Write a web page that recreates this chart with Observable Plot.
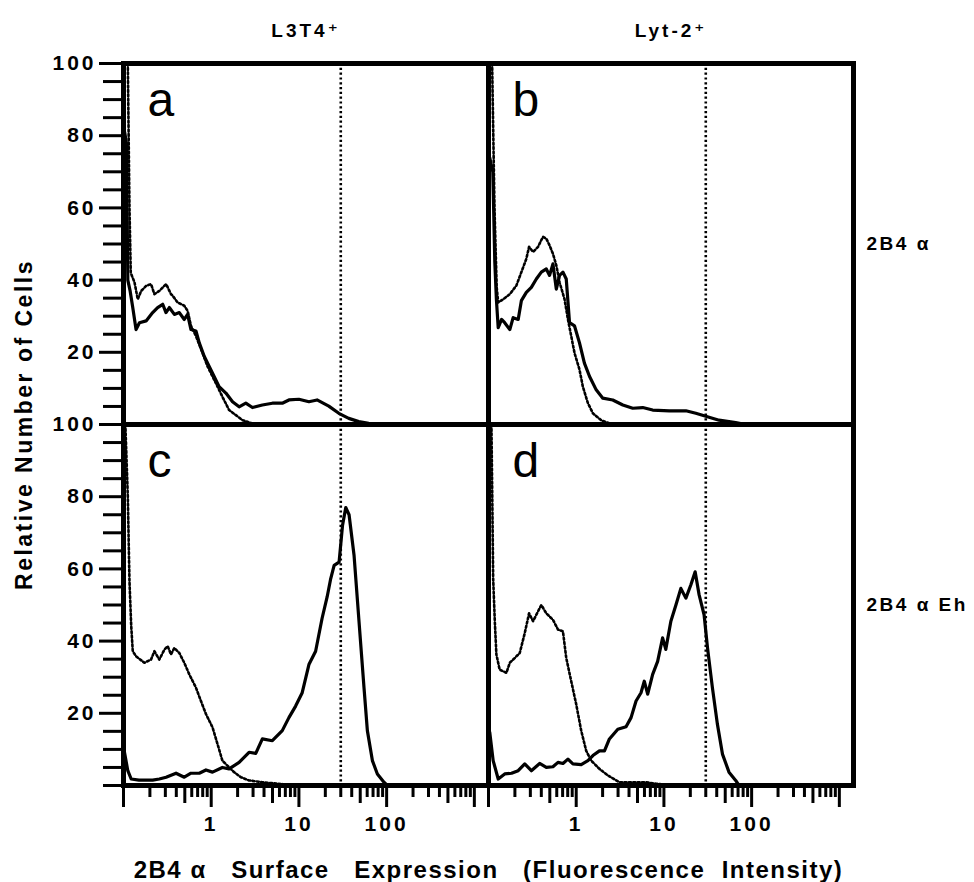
<!DOCTYPE html>
<html><head><meta charset="utf-8">
<script src="https://cdn.jsdelivr.net/npm/d3@7"></script>
<script src="https://cdn.jsdelivr.net/npm/@observablehq/plot@0.6"></script>
<style>
body{margin:0;background:#fff;}
#chart svg{display:block;}
#chart g[aria-label="y-axis tick label"] text{letter-spacing:3px;}
#chart g[aria-label="x-axis tick label"] text{letter-spacing:3px;}
#chart g[aria-label="y-axis label"] text{font-size:23px;letter-spacing:2.5px;}
#chart g[aria-label="x-axis label"] text{font-size:24px;letter-spacing:1.5px;}
#chart g[aria-label="fx-axis tick label"] text{letter-spacing:3px;}
#chart g[aria-label="fy-axis tick label"] text{letter-spacing:2.5px;}
</style>
</head><body><div id="chart"></div>
<script>
// Facets
const cols = ["L3T4\u207A", "Lyt-2\u207A"];
const rows = ["2B4 \u03B1", "2B4 \u03B1 Eh"];
const panelLetters = ["a", "b", "c", "d"];
// Axes
const xDomain = [0.1, 1450];
const yDomain = [0, 100];
const xMajor = [0.1, 1, 10, 100, 1000];
const xMid = [0.5, 5, 50, 500];
const xMinor = [0.2,0.3,0.4,0.6,0.7,0.8,0.9, 2,3,4,6,7,8,9, 20,30,40,60,70,80,90, 200,300,400,600,700,800,900];
const xLabels = ["1", "10", "100"];
const yMajor = [20, 40, 60, 80, 100];
const yMinor = [0,5,10,15,25,30,35,45,50,55,65,70,75,85,90,95];
const gate = [30];

// (a) L3T4+ / 2B4 alpha
const aSolid = [[0.103,81],[0.108,78],[0.112,40],[0.119,37],[0.1275,32.4],[0.139,26.3],[0.152,28.2],[0.181,28.7],[0.215,31],[0.245,32.4],[0.28,33.3],[0.305,31],[0.333,32.4],[0.38,30.5],[0.433,31],[0.493,29.1],[0.538,30.5],[0.588,26.3],[0.67,25.9],[0.731,22.6],[0.832,18.9],[0.949,16.1],[1.08,13.3],[1.23,10.5],[1.47,8.7],[1.75,6.3],[2.08,4.9],[2.48,5.9],[2.95,4.7],[3.83,5.4],[4.98,5.9],[6.46,5.9],[7.69,6.8],[10,7.0],[13,6.3],[16.1,6.8],[21.9,5.1],[28.5,3.1],[37,1.7],[48.1,0.8],[62.4,0.3],[80,0]];
const aDotted = [[0.112,100],[0.117,60],[0.121,42],[0.1334,39.4],[0.1454,34.7],[0.159,37],[0.181,38.4],[0.206,38.9],[0.225,36.1],[0.256,37],[0.306,38.9],[0.348,36.1],[0.363,35.7],[0.414,33.8],[0.493,32.9],[0.538,31.5],[0.588,27.3],[0.67,24.5],[0.796,19.8],[0.908,16.1],[1.035,13.3],[1.18,10.5],[1.34,7.7],[1.6,4.0],[1.91,2.6],[2.27,1.2],[2.95,0.3],[4,0]];
// (b) Lyt-2+ / 2B4 alpha
const bSolid = [[0.103,74],[0.112,70],[0.118,45],[0.123,34.7],[0.129,26.8],[0.141,29.1],[0.153,28.2],[0.175,26.3],[0.191,29.6],[0.218,29.1],[0.237,34.3],[0.27,36.6],[0.308,38],[0.351,40.3],[0.4,42.2],[0.456,43.1],[0.497,41.3],[0.543,44.5],[0.593,37.5],[0.646,41.3],[0.706,42.2],[0.77,40.3],[0.839,28.2],[0.957,27.3],[1.09,22.6],[1.24,17],[1.42,13.3],[1.69,9.6],[2.01,7.3],[2.61,6.8],[3.4,5.4],[4.41,4.5],[5.73,4.7],[7.44,4.0],[11.5,3.8],[17.8,3.8],[23.1,3.1],[30,2.3],[42.5,1.2],[65.8,0.5],[85.5,0]];
const bDotted = [[0.11,100],[0.117,60],[0.124,38],[0.129,33.8],[0.147,34.7],[0.175,36.1],[0.208,38.5],[0.237,42.2],[0.27,45.9],[0.29,49.2],[0.322,47.8],[0.367,49.2],[0.418,52],[0.456,51.5],[0.497,49.6],[0.543,47.3],[0.593,44.1],[0.646,39.4],[0.736,34.7],[0.805,29.1],[0.877,24.5],[0.957,19.8],[1.09,15.2],[1.19,10.5],[1.36,5.9],[1.55,3.1],[1.92,1.2],[2.39,0.3],[3.2,0]];
// (c) L3T4+ / 2B4 alpha Eh
const cSolid = [[0.1,10.5],[0.1026,9.2],[0.112,4.1],[0.1223,1.8],[0.15,1.5],[0.215,1.5],[0.256,1.8],[0.306,2.3],[0.397,3.4],[0.493,2.3],[0.588,3.4],[0.731,3.4],[0.871,4.3],[1.035,3.7],[1.34,5.0],[1.6,4.6],[2.08,6.4],[2.7,9.2],[3.22,8.9],[3.83,12.9],[4.98,12.4],[6.46,15.2],[7.69,18.8],[9.17,22],[10.9,25.7],[13,33.5],[15.5,37.2],[18.4,46.4],[21,52.3],[22.9,57],[25.2,61],[28.7,61.9],[31.4,72],[34.2,77],[37.3,75],[42.5,63.8],[48.4,45.5],[55.2,27.1],[60.3,15.2],[68.8,6.9],[78.4,3.2],[93.2,0.9],[102,0]];
const cDotted = [[0.105,100],[0.112,80],[0.117,56.5],[0.1223,44.5],[0.1275,37.2],[0.139,35.8],[0.173,34],[0.206,34.9],[0.225,37.2],[0.256,34.9],[0.292,37.6],[0.319,38.6],[0.348,36.3],[0.38,38.1],[0.433,36.7],[0.493,34],[0.562,30.8],[0.67,27.1],[0.764,23.4],[0.871,19.8],[1.035,16.1],[1.18,11.5],[1.34,6.9],[1.53,5.5],[1.82,3.7],[2.18,2.3],[2.7,1.4],[3.83,0.9],[7.06,0.3],[12,0]];
// (d) Lyt-2+ / 2B4 alpha Eh
const dSolid = [[0.1,15.5],[0.1034,14.7],[0.113,6.9],[0.129,1.8],[0.153,3.2],[0.183,3.4],[0.218,4.1],[0.259,6.0],[0.308,4.1],[0.383,6.1],[0.456,5.0],[0.543,5.2],[0.62,6.4],[0.706,6.1],[0.805,7.3],[0.917,6.0],[1.14,5.8],[1.36,6.9],[1.55,8.3],[1.84,9.6],[2.1,9.6],[2.39,12.9],[2.98,15.6],[3.7,16.3],[4.22,18.8],[4.81,23.4],[5.48,25.7],[5.97,28.9],[6.53,25.3],[7.44,30.8],[8.48,34.4],[9.66,40.9],[10.5,37.7],[12,45.5],[13.7,50],[15.6,54.6],[17.8,51.9],[20.3,55.6],[22.7,59.2],[25.2,52.8],[28.7,47.3],[31.4,38.1],[35.7,27.1],[40.7,17],[46.5,8.7],[55.2,3.7],[65.8,1.4],[71.8,0]];
const dDotted = [[0.108,100],[0.111,75],[0.113,57.4],[0.118,45.5],[0.123,36.3],[0.134,32.1],[0.16,31.2],[0.175,34],[0.199,35.3],[0.227,36.7],[0.259,42.2],[0.29,47.7],[0.322,45.5],[0.351,47.3],[0.4,50],[0.456,47.7],[0.543,45.9],[0.62,43.2],[0.706,42.7],[0.77,35.3],[0.877,28.9],[1.0,22.5],[1.14,15.2],[1.3,9.6],[1.48,6.9],[1.84,4.6],[2.29,2.8],[3.1,0.9],[4.41,0.9],[6.24,0.9],[8.11,0.5],[12,0]];

const panels = [
  {letter: panelLetters[0], col: cols[0], row: rows[0], solid: aSolid, dotted: aDotted},
  {letter: panelLetters[1], col: cols[1], row: rows[0], solid: bSolid, dotted: bDotted},
  {letter: panelLetters[2], col: cols[0], row: rows[1], solid: cSolid, dotted: cDotted},
  {letter: panelLetters[3], col: cols[1], row: rows[1], solid: dSolid, dotted: dDotted}
];
const toRows = (p, key) => p[key].map(([x, y]) => ({x, y, col: p.col, row: p.row, key: p.letter + key}));
const solidData = panels.flatMap(p => toRows(p, "solid"));
const dottedData = panels.flatMap(p => toRows(p, "dotted"));
const gateData = panels.flatMap(p => gate.map(x => ({x, col: p.col, row: p.row})));

const xLabel = "2B4 \u03B1\u00A0\u00A0\u00A0Surface\u00A0\u00A0\u00A0Expression\u00A0\u00A0\u00A0(Fluorescence\u00A0\u00A0Intensity)";

const chart = Plot.plot({
  width: 974,
  height: 882,
  marginLeft: 122,
  marginRight: 121,
  marginTop: 63,
  marginBottom: 97,
  style: {fontFamily: "'Liberation Sans', Arial, 'DejaVu Sans', sans-serif", background: "#fff", color: "#000"},
  x: {type: "log", domain: xDomain},
  y: {domain: yDomain},
  fx: {domain: cols, padding: 0},
  fy: {domain: rows, padding: 0},
  marks: [
    Plot.line(dottedData, {x: "x", y: "y", fx: "col", fy: "row", z: "key", stroke: "#000", strokeWidth: 2.6, strokeDasharray: "2 2.4"}),
    Plot.line(solidData, {x: "x", y: "y", fx: "col", fy: "row", z: "key", stroke: "#000", strokeWidth: 3.2, strokeLinejoin: "round"}),
    Plot.ruleX(gateData, {x: "x", fx: "col", fy: "row", stroke: "#000", strokeWidth: 2.6, strokeDasharray: "2.2 2.6"}),
    Plot.text(panels, {text: "letter", fx: "col", fy: "row", frameAnchor: "top-left", dx: 24, dy: 18, lineAnchor: "top", fontSize: 48, fill: "#000"}),
    Plot.frame({stroke: "#000", strokeWidth: 5}),
    Plot.axisY({ticks: yMinor, tickSize: 20, strokeWidth: 3, fill: "none", label: null}),
    Plot.axisY({ticks: yMajor, tickSize: 24, tickPadding: 3, strokeWidth: 3, fontSize: 21, fontWeight: "bold",
      label: "Relative Number of Cells", labelArrow: "none", labelAnchor: "center", labelOffset: 108}),
    Plot.axisX({ticks: xMinor, tickSize: 12, strokeWidth: 3, fill: "none", label: null}),
    Plot.axisX({ticks: xMid, tickSize: 18, strokeWidth: 3, fill: "none", label: null}),
    Plot.axisX({ticks: xMajor, tickSize: 22, strokeWidth: 3, tickPadding: 9, fontSize: 21, fontWeight: "bold",
      tickFormat: d => xLabels.find(s => +s === d) ?? "",
      label: xLabel, labelArrow: "none", labelAnchor: "center", labelOffset: 92}),
    Plot.axisFx({anchor: "top", tickSize: 0, tickPadding: 27, fontSize: 19, fontWeight: "bold", label: null}),
    Plot.axisFy({anchor: "right", tickSize: 0, tickPadding: 13, fontSize: 19, fontWeight: "bold", label: null})
  ]
});
document.getElementById("chart").append(chart);
</script></body></html>
